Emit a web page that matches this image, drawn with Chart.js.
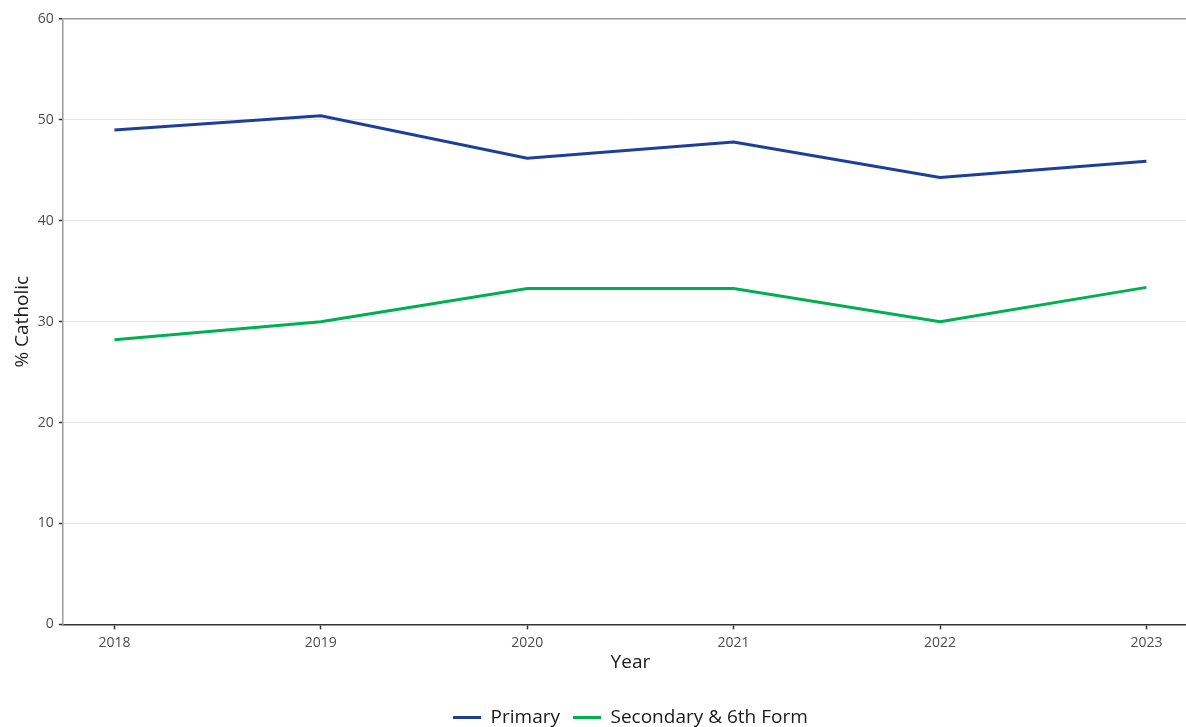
<!DOCTYPE html>
<html>
<head>
<meta charset="utf-8">
<script src="https://cdn.jsdelivr.net/npm/chart.js@4"></script>
<style>
  html, body { margin: 0; padding: 0; background: #fff; overflow: hidden; }
  #chart-wrapper { width: 1198px; height: 737px; }
</style>
</head>
<body>
<div id="chart-wrapper"><canvas id="chart"></canvas></div>
<script>
var years = [2018, 2019, 2020, 2021, 2022, 2023];
var primary = [49.0, 50.4, 46.2, 47.8, 44.3, 45.9];
var secondary = [28.2, 30.0, 33.3, 33.3, 30.0, 33.4];
var yTicks = [0, 10, 20, 30, 40, 50, 60];

var font = '"Open Sans", "DejaVu Sans", sans-serif';

function points(values) {
  return years.map(function (yr, i) { return { x: yr, y: values[i] }; });
}

var ctx = document.getElementById('chart');
var chart = new Chart(ctx, {
  type: 'line',
  data: {
    datasets: [{
      label: 'Primary',
      data: points(primary),
      borderColor: '#1d3f9a',
      backgroundColor: '#1d3f9a',
      borderWidth: 3,
      pointRadius: 0,
      pointStyle: 'line',
      tension: 0
    }, {
      label: 'Secondary & 6th Form',
      data: points(secondary),
      borderColor: '#00b050',
      backgroundColor: '#00b050',
      borderWidth: 3,
      pointRadius: 0,
      pointStyle: 'line',
      tension: 0
    }]
  },
  options: {
    responsive: true,
    maintainAspectRatio: false,
    animation: false,
    layout: {
      padding: { top: 19, left: 0, right: 0, bottom: 0 }
    },
    plugins: {
      tooltip: { enabled: false },
      legend: {
        position: 'bottom',
        fullSize: false,
        labels: {
          usePointStyle: true,
          pointStyleWidth: 28,
          padding: 13,
          color: '#1a1a1a',
          font: { family: font, size: 19 }
        }
      }
    },
    scales: {
      x: {
        type: 'linear',
        min: 2017.75,
        max: 2023.25,
        border: { color: '#333', width: 1.5 },
        grid: {
          drawOnChartArea: false,
          drawTicks: true,
          tickLength: 5,
          tickColor: '#333',
          tickWidth: 1.5
        },
        ticks: {
          stepSize: 1,
          includeBounds: false,
          padding: 5,
          color: '#4d4d4d',
          font: { family: font, size: 14 },
          callback: function (v) { return String(v); }
        },
        title: {
          display: true,
          text: 'Year',
          color: '#1a1a1a',
          font: { family: font, size: 19 },
          padding: { top: -5, bottom: 21 }
        }
      },
      y: {
        min: yTicks[0],
        max: yTicks[yTicks.length - 1],
        border: { color: '#999', width: 1.5 },
        grid: {
          color: function (c) { return c.tick && c.tick.value === 60 ? '#999' : '#e6e6e6'; },
          lineWidth: function (c) { return c.tick && c.tick.value === 60 ? 1.5 : 1; },
          tickLength: 4,
          tickColor: '#333',
          tickWidth: 1.5
        },
        afterBuildTicks: function (axis) {
          axis.ticks = yTicks.map(function (v) { return { value: v }; });
        },
        ticks: {
          padding: 5,
          color: '#4d4d4d',
          font: { family: font, size: 14 }
        },
        title: {
          display: true,
          text: '% Catholic',
          color: '#1a1a1a',
          font: { family: font, size: 19 },
          padding: { top: 11, bottom: -1 }
        }
      }
    }
  }
});
</script>
</body>
</html>
